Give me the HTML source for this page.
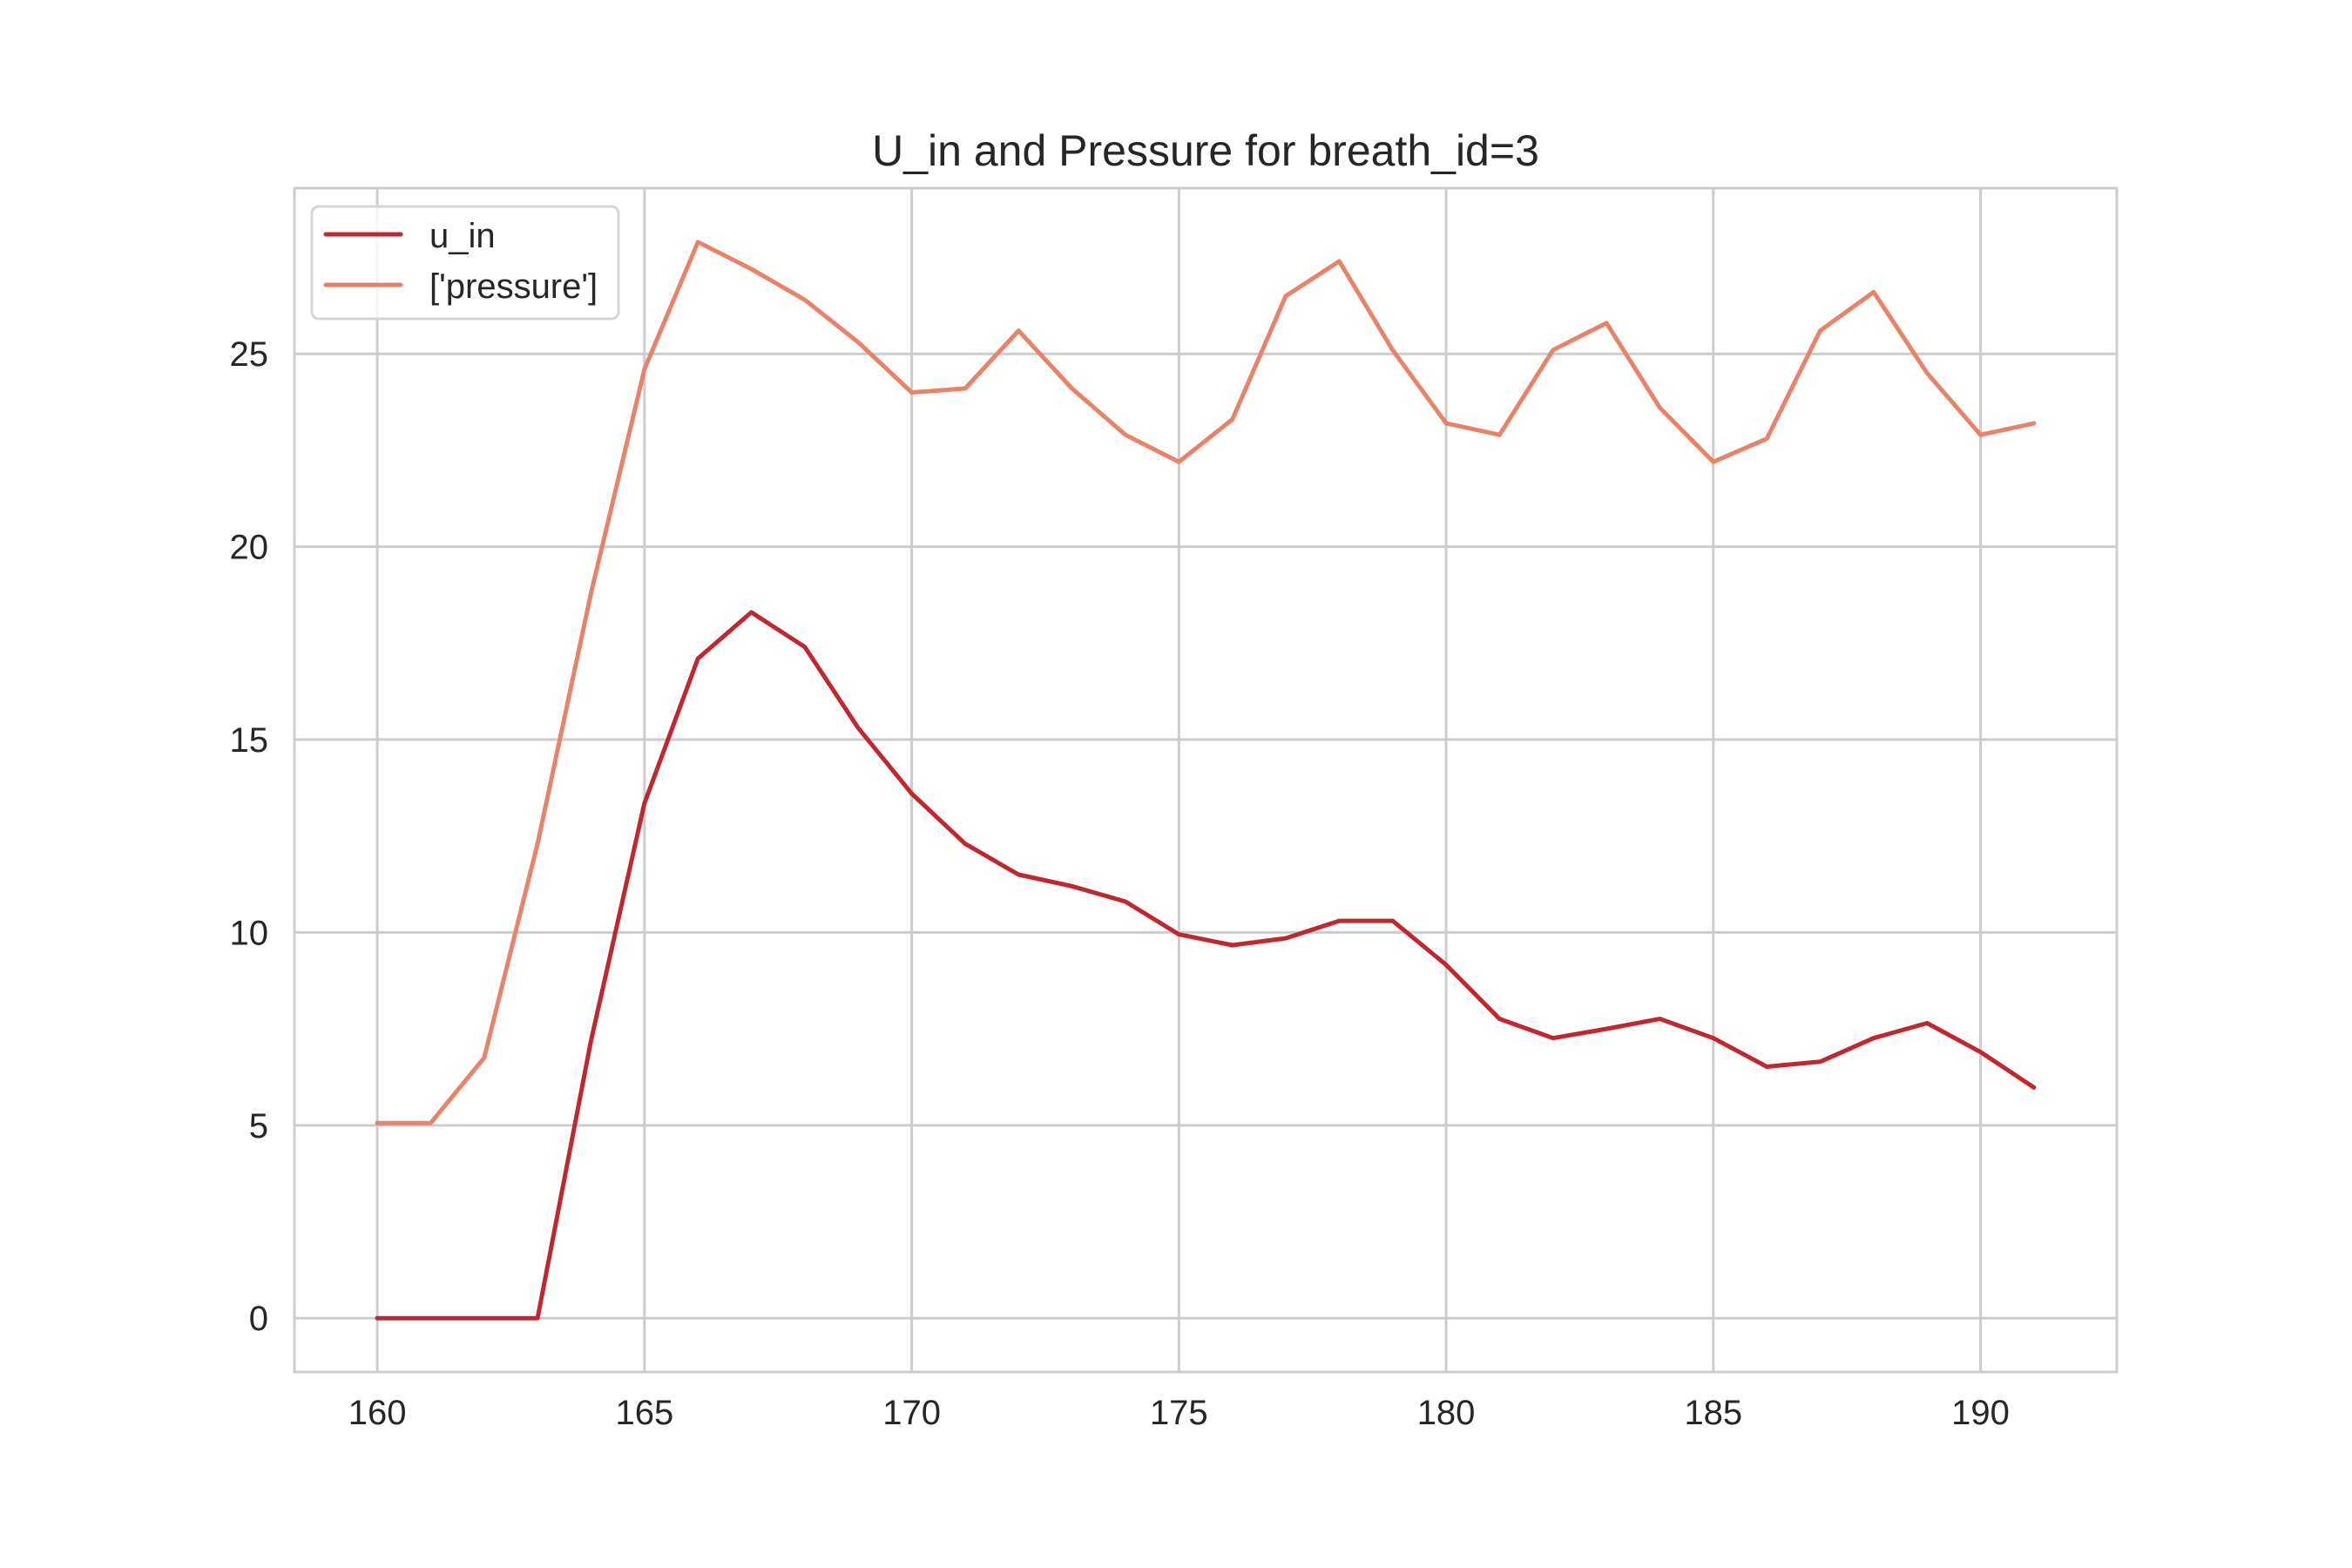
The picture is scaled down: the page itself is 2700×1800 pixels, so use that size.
<!DOCTYPE html>
<html><head><meta charset="utf-8"><style>
html,body{margin:0;padding:0;background:#fff;}
svg{display:block;font-family:"Liberation Sans",Arial,sans-serif;}
</style></head><body>
<svg id="chart" width="2700" height="1800" viewBox="0 0 2700 1800" xmlns="http://www.w3.org/2000/svg">
<rect width="2700" height="1800" fill="#fff"/>
<g id="grid"></g>
<g id="series"></g>
<rect x="338" y="216" width="2092" height="1359" fill="none" stroke="#cccccc" stroke-width="3"/>
<g id="ticks"></g>
<text x="1384" y="190" font-size="50" fill="#262626" text-anchor="middle">U_in and Pressure for breath_id=3</text>
<g>
<rect x="358" y="237" width="352" height="129" rx="8" fill="#fff" fill-opacity="0.8" stroke="#d5d5d5" stroke-width="3"/>
<line x1="374" y1="269" x2="460" y2="269" stroke="#c0272e" stroke-width="5" stroke-linecap="round"/>
<text x="493" y="284" font-size="40" fill="#262626">u_in</text>
<line x1="374" y1="327" x2="460" y2="327" stroke="#e8836a" stroke-width="5" stroke-linecap="round"/>
<text x="493" y="342" font-size="40" fill="#262626">['pressure']</text>
</g>
</svg>
<script>
const timeSteps = [160,161,162,163,164,165,166,167,168,169,170,171,172,173,174,175,176,177,178,179,180,181,182,183,184,185,186,187,188,189,190,191];
const uInValues = [0,0,0,0,7.2,13.35,17.1,18.3,17.4,15.3,13.6,12.3,11.5,11.2,10.8,9.95,9.67,9.85,10.3,10.3,9.16,7.76,7.26,7.5,7.76,7.26,6.52,6.65,7.26,7.65,6.9,5.98];
const pressureValues = [5.06,5.06,6.75,12.3,18.8,24.6,27.9,27.2,26.4,25.3,24.0,24.1,25.6,24.1,22.9,22.2,23.3,26.5,27.4,25.1,23.2,22.9,25.1,25.8,23.6,22.2,22.8,25.6,26.6,24.5,22.9,23.2];
const xTicks = [160,165,170,175,180,185,190];
const yTicks = [0,5,10,15,20,25];

const L=338,R=2430,T=216,B=1575;
const allX=timeSteps, xmin0=Math.min(...allX), xmax0=Math.max(...allX);
const xpad=(xmax0-xmin0)*0.05;
const xmin=xmin0-xpad, xmax=xmax0+xpad;
const allY=uInValues.concat(pressureValues);
const ymin0=Math.min(...allY), ymax0=Math.max(...allY), ypad=(ymax0-ymin0)*0.05;
const ymin=ymin0-ypad, ymax=ymax0+ypad;
const sx=v=>L+(v-xmin)/(xmax-xmin)*(R-L);
const sy=v=>B-(v-ymin)/(ymax-ymin)*(B-T);
const NS='http://www.w3.org/2000/svg';
const grid=document.getElementById('grid'), ticks=document.getElementById('ticks'), series=document.getElementById('series');
function mk(tag,attrs,parent){const e=document.createElementNS(NS,tag);for(const k in attrs)e.setAttribute(k,attrs[k]);parent.appendChild(e);return e;}
xTicks.forEach(v=>{
  const g=mk('line',{x1:sx(v),x2:sx(v),y1:T,y2:B,stroke:'#cccccc','stroke-width':3},grid);
  
  
  const t=mk('text',{x:sx(v),y:B+60,'font-size':40,fill:'#262626','text-anchor':'middle'},ticks);
  t.textContent=v;
  
  
});
yTicks.forEach(v=>{
  const g=mk('line',{x1:L,x2:R,y1:sy(v),y2:sy(v),stroke:'#cccccc','stroke-width':3},grid);
  
  
  const t=mk('text',{x:L-30,y:sy(v)+14,'font-size':40,fill:'#262626','text-anchor':'end'},ticks);
  t.textContent=v;
  
  
});
function line(vals,color,name){
  const d=vals.map((v,i)=>(i?'L':'M')+sx(timeSteps[i]).toFixed(1)+' '+sy(v).toFixed(1)).join(' ');
  const p=mk('path',{d:d,fill:'none',stroke:color,'stroke-width':5,'stroke-linejoin':'round','stroke-linecap':'round'},series);
  
  
}
line(uInValues,'#c0272e','u-in-line');
line(pressureValues,'#e8836a','pressure-line');
</script>
</body></html>
